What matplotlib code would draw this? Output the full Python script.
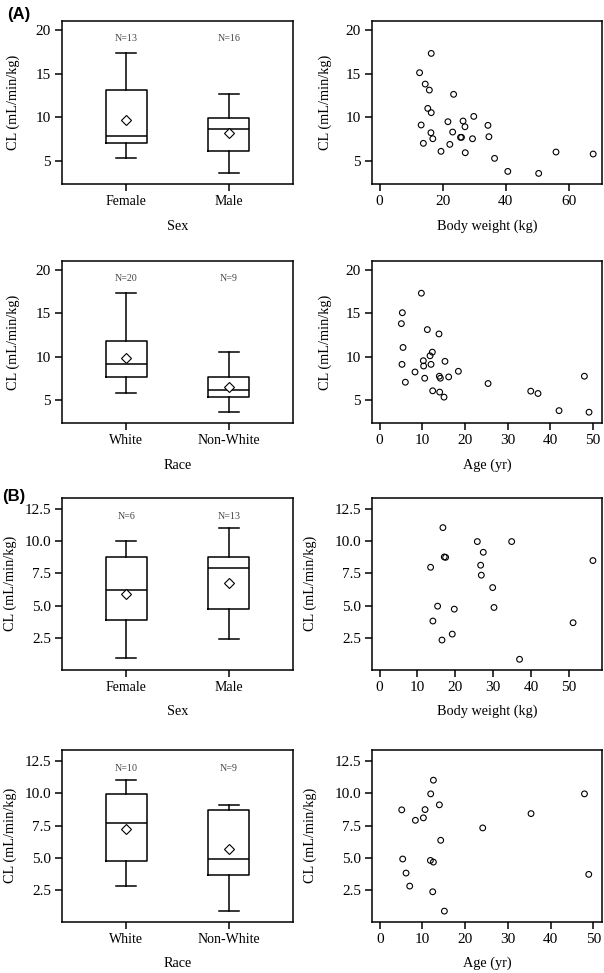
import matplotlib
matplotlib.use('Agg')
import matplotlib.pyplot as plt
from matplotlib.ticker import FormatStrFormatter, FixedLocator

plt.rcParams['font.family'] = ['Liberation Serif', 'DejaVu Serif']

# ---------------- data ----------------
sex_groups = ['Female', 'Male']
race_groups = ['White', 'Non-White']

# Panel A boxplots (summary statistics)
A_sex_n = [13, 16]
A_sex_whislo = [5.3, 3.58]
A_sex_q1 = [7.0, 6.1]
A_sex_med = [7.8, 8.7]
A_sex_q3 = [13.15, 9.9]
A_sex_whishi = [17.35, 12.65]
A_sex_mean = [9.65, 8.15]

A_race_n = [20, 9]
A_race_whislo = [5.84, 3.58]
A_race_q1 = [7.71, 5.31]
A_race_med = [9.12, 6.11]
A_race_q3 = [11.87, 7.71]
A_race_whishi = [17.33, 10.5]
A_race_mean = [9.81, 6.53]

# Panel B boxplots
B_sex_n = [6, 13]
B_sex_whislo = [0.92, 2.4]
B_sex_q1 = [3.87, 4.72]
B_sex_med = [6.19, 7.94]
B_sex_q3 = [8.74, 8.79]
B_sex_whishi = [9.97, 11.03]
B_sex_mean = [5.93, 6.75]

B_race_n = [10, 9]
B_race_whislo = [2.81, 0.87]
B_race_q1 = [4.78, 3.69]
B_race_med = [7.73, 4.94]
B_race_q3 = [9.96, 8.72]
B_race_whishi = [11.0, 9.11]
B_race_mean = [7.21, 5.69]

# Panel A scatter: body weight
A_wt = [16.4, 12.7, 14.5, 15.8, 23.5, 15.3, 16.4, 13.2, 21.7, 26.5, 29.9, 27.1,
        34.4, 16.3, 23.2, 25.7, 26.0, 16.9, 29.5, 34.7, 13.9, 22.3, 19.5, 27.2,
        36.5, 56.0, 67.8, 40.7, 50.5]
A_wt_cl = [17.35, 15.13, 13.82, 13.13, 12.64, 11.02, 10.53, 9.11, 9.49, 9.57, 10.1, 8.91,
           9.07, 8.22, 8.30, 7.69, 7.69, 7.53, 7.53, 7.76, 7.0, 6.88, 6.08, 5.92,
           5.27, 6.0, 5.77, 3.77, 3.54]

# Panel A scatter: age
A_age = [9.77, 5.31, 5.08, 11.17, 13.9, 5.47, 12.34, 11.8, 10.23, 15.3, 5.23, 10.3,
         12.03, 8.28, 18.44, 13.98, 16.17, 14.22, 10.55, 6.02, 25.4, 12.42, 14.06, 15.08,
         35.4, 37.1, 47.97, 42.03, 49.06]
A_age_cl = [17.33, 15.08, 13.82, 13.13, 12.63, 11.07, 10.53, 10.11, 9.54, 9.47, 9.12, 8.93,
            9.12, 8.24, 8.32, 7.75, 7.67, 7.52, 7.52, 7.06, 6.91, 6.07, 5.92, 5.34,
            6.03, 5.76, 7.75, 3.78, 3.6]

# Panel B scatter: body weight
B_wt = [16.75, 25.84, 34.92, 27.42, 17.1, 17.46, 56.4, 13.49, 26.72, 26.9, 29.9,
        15.34, 19.75, 30.25, 14.1, 51.15, 19.22, 16.5, 37.0]
B_wt_cl = [11.03, 9.95, 9.95, 9.12, 8.76, 8.73, 8.48, 7.96, 8.12, 7.35, 6.39,
           4.95, 4.72, 4.85, 3.8, 3.67, 2.79, 2.33, 0.84]

# Panel B scatter: age
B_age = [12.56, 11.93, 47.9, 13.96, 5.15, 10.61, 35.4, 8.35, 10.22, 24.1, 14.27,
         5.38, 11.86, 12.56, 6.16, 48.9, 7.02, 12.4, 15.13]
B_age_cl = [11.02, 9.96, 9.96, 9.11, 8.72, 8.74, 8.43, 7.91, 8.1, 7.32, 6.36,
            4.91, 4.8, 4.67, 3.82, 3.72, 2.81, 2.37, 0.87]

ylabel = 'CL (mL/min/kg)'

# ---------------- layout ----------------
W, H = 604, 973
fig = plt.figure(figsize=(W / 100, H / 100), dpi=100)


def add_ax(l, t, r, b):
    return fig.add_axes([l / W, 1 - b / H, (r - l) / W, (b - t) / H])


LW = 1.1
TICK_FS = 11
CAT_FS = 10
LAB_FS = 10.3


def style(ax, w_px, h_px, xlab, ylab_off):
    for s in ax.spines.values():
        s.set_linewidth(LW)
    ax.tick_params(direction='out', length=5, width=LW, labelsize=TICK_FS, pad=3)
    ax.set_ylabel(ylabel, fontsize=LAB_FS)
    ax.yaxis.label.set_va('center')
    ax.yaxis.set_label_coords(-ylab_off / w_px, 0.5)
    ax.set_xlabel(xlab, fontsize=LAB_FS)
    ax.xaxis.label.set_va('center')
    ax.xaxis.set_label_coords(0.5, -42 / h_px)


def boxpanel(ax, groups, ns, lo, q1, med, q3, hi, mean, ylim, yticks, fmt, xlab, w_px, h_px, yoff):
    stats = []
    for i in range(len(groups)):
        stats.append(dict(label=groups[i], whislo=lo[i], q1=q1[i], med=med[i],
                          q3=q3[i], whishi=hi[i], mean=mean[i]))
    ax.bxp(stats, positions=[1, 2], widths=0.40, showmeans=True, showfliers=False,
           boxprops=dict(color='black', linewidth=LW),
           whiskerprops=dict(color='black', linewidth=LW),
           capprops=dict(color='black', linewidth=LW),
           medianprops=dict(color='black', linewidth=LW),
           meanprops=dict(marker='D', markerfacecolor='white', markeredgecolor='black',
                          markersize=4.8, markeredgewidth=0.8),
           capwidths=0.2)
    ax.set_xlim(0.375, 2.625)
    ax.set_ylim(*ylim)
    ax.yaxis.set_major_locator(FixedLocator(yticks))
    ax.yaxis.set_major_formatter(FormatStrFormatter(fmt))
    style(ax, w_px, h_px, xlab, yoff)
    ax.tick_params(axis='x', labelsize=CAT_FS)
    for i, n in enumerate(ns):
        ax.text(i + 1, 0.89, 'N=%d' % n, transform=ax.get_xaxis_transform(),
                ha='center', va='center', fontsize=7.2, color='#444444')


def scatpanel(ax, x, y, xlim, xticks, ylim, yticks, fmt, xlab, w_px, h_px, yoff):
    ax.scatter(x, y, s=17, facecolors='none', edgecolors='black', linewidths=0.8)
    ax.set_xlim(*xlim)
    ax.set_ylim(*ylim)
    ax.xaxis.set_major_locator(FixedLocator(xticks))
    ax.yaxis.set_major_locator(FixedLocator(yticks))
    ax.yaxis.set_major_formatter(FormatStrFormatter(fmt))
    style(ax, w_px, h_px, xlab, yoff)


A_ylim = (2.32, 21.08)
A_yt = [5, 10, 15, 20]
B_ylim = (0.05, 13.36)
B_yt = [2.5, 5.0, 7.5, 10.0, 12.5]

# Row 1 (A)
ax = add_ax(62, 21, 293, 184)
boxpanel(ax, sex_groups, A_sex_n, A_sex_whislo, A_sex_q1, A_sex_med, A_sex_q3, A_sex_whishi,
         A_sex_mean, A_ylim, A_yt, '%d', 'Sex', 231, 163, 49)
ax = add_ax(372, 21, 602, 184)
scatpanel(ax, A_wt, A_wt_cl, (-2.4, 70.6), [0, 20, 40, 60], A_ylim, A_yt, '%d',
          'Body weight (kg)', 230, 163, 47)

# Row 2 (A)
ax = add_ax(62, 260.7, 293, 423.3)
boxpanel(ax, race_groups, A_race_n, A_race_whislo, A_race_q1, A_race_med, A_race_q3,
         A_race_whishi, A_race_mean, A_ylim, A_yt, '%d', 'Race', 231, 163, 49)
ax = add_ax(372, 260.7, 602, 423.3)
scatpanel(ax, A_age, A_age_cl, (-1.8, 52.1), [0, 10, 20, 30, 40, 50], A_ylim, A_yt, '%d',
          'Age (yr)', 230, 163, 47)

# Row 3 (B)
ax = add_ax(62, 497.5, 293, 669.5)
boxpanel(ax, sex_groups, B_sex_n, B_sex_whislo, B_sex_q1, B_sex_med, B_sex_q3, B_sex_whishi,
         B_sex_mean, B_ylim, B_yt, '%.1f', 'Sex', 231, 172, 52)
ax = add_ax(372, 497.5, 602, 669.5)
scatpanel(ax, B_wt, B_wt_cl, (-2.0, 58.8), [0, 10, 20, 30, 40, 50], B_ylim, B_yt, '%.1f',
          'Body weight (kg)', 230, 172, 62)

# Row 4 (B)
ax = add_ax(62, 750, 293, 921.7)
boxpanel(ax, race_groups, B_race_n, B_race_whislo, B_race_q1, B_race_med, B_race_q3,
         B_race_whishi, B_race_mean, B_ylim, B_yt, '%.1f', 'Race', 231, 172, 52)
ax = add_ax(372, 750, 602, 921.7)
scatpanel(ax, B_age, B_age_cl, (-1.8, 52.0), [0, 10, 20, 30, 40, 50], B_ylim, B_yt, '%.1f',
          'Age (yr)', 230, 172, 62)

fig.text(7 / W, 1 - 14 / H, '(A)', fontsize=12, fontweight='bold',
         family=['Liberation Sans', 'DejaVu Sans'], ha='left', va='center')
fig.text(2 / W, 1 - 496 / H, '(B)', fontsize=12, fontweight='bold',
         family=['Liberation Sans', 'DejaVu Sans'], ha='left', va='center')

fig.savefig('out.png', dpi=100)
